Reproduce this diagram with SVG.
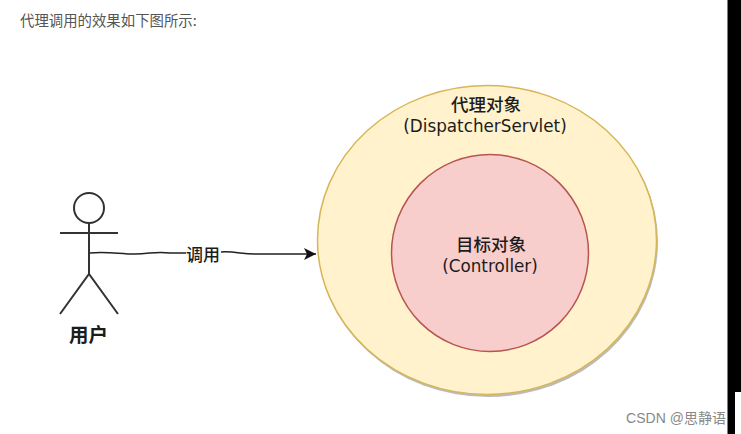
<svg xmlns="http://www.w3.org/2000/svg" width="741" height="434" viewBox="0 0 741 434">
<defs>
<marker id="arrow" markerUnits="userSpaceOnUse" markerWidth="14" markerHeight="14" refX="12" refY="6.500" orient="auto"><path d="M0 0.500L12 6.500L0 12.500L3 6.500Z" fill="#111"/></marker>
</defs>
<style>
text{text-anchor:middle}
.cjk{font-family:"Noto Sans CJK SC",sans-serif}
.label{font-size:17.500px;font-weight:500;fill:#1c1c1c}
.latin{font-family:"DejaVu Sans","Noto Sans CJK SC",sans-serif;font-size:16.800px;fill:#1c1c1c}
.stick{fill:none;stroke:#333;stroke-width:2}
</style>
<rect width="741" height="434" fill="#fff"/>
<text class="cjk" x="20" y="26" font-size="14.400" fill="#555" style="text-anchor:start">代理调用的效果如下图所示:</text>
<g id="proxy">
<ellipse cx="488" cy="242" rx="170" ry="155" fill="#bbb"/>
<ellipse cx="487" cy="240" rx="169.500" ry="154.500" fill="#fff2cc" stroke="#d6b656" stroke-width="1.500"/>
<text class="cjk label" x="486" y="111">代理对象</text>
<text class="latin" x="485" y="132">(DispatcherServlet)</text>
</g>
<g id="target">
<circle cx="490" cy="253" r="98.500" fill="#f8cecc" stroke="#b85450" stroke-width="1.500"/>
<text class="cjk label" x="491" y="251">目标对象</text>
<text class="latin" x="490" y="272">(Controller)</text>
</g>
<g id="user">
<circle cx="89" cy="208" r="15" class="stick"/>
<path class="stick" d="M89 223V274M60 233H118M60 314L89 274L118 314"/>
<text class="cjk" x="88.500" y="342" font-size="19.500" font-weight="700" fill="#1c1c1c">用户</text>
</g>
<g id="connectors">
<path d="M90 253C105 251 120 254 135 254S155 251 170 253L186 253" fill="none" stroke="#222" stroke-width="1.500"/>
<path d="M221 252C235 251 245 255 258 254L316 254" fill="none" stroke="#222" stroke-width="1.500" marker-end="url(#arrow)"/>
<text class="cjk" x="203" y="261" font-size="17" font-weight="500" fill="#1c1c1c">调用</text>
</g>
<rect x="727.500" y="0" width="13.500" height="434" fill="#000"/>
<rect x="735" y="392" width="6" height="42" fill="#fff"/>
<text x="676" y="423" font-size="14" fill="#888" style="font-family:'Liberation Sans','Noto Sans CJK SC',sans-serif">CSDN @思静语</text>
</svg>
